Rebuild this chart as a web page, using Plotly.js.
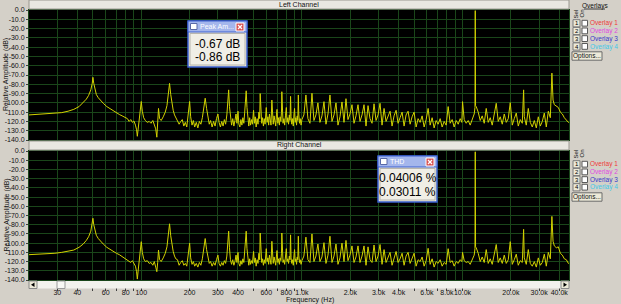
<!DOCTYPE html>
<html><head><meta charset="utf-8">
<script src="https://cdn.plot.ly/plotly-3.0.1.min.js"></script>
<style>html,body{margin:0;padding:0;background:#d4d0c8;overflow:hidden}#chart{width:621px;height:304px}</style>
</head><body><div id="chart"></div>
<script>
// ---------- DATA ----------
const freqA = [20,23,26,29,32,35,38,41,43.5,45.5,
47,48.5,49.5,50,50.6,51.3,52.5,54,55.5,58,
61,64,67,70,73,76,79,82,84,86,
88,90,92,93.5,94.5,96,98,100,101.5,103.5,
106,109,112,115,118,120.5,123,125,126.5,128,
130,133,137,141,144.5,147.5,150,152.5,155,158,
161,164,168,172,176];
const leftA = [-113,-112.5,-112,-111,-110.5,-109,-107,-104,-100,-96,
-92,-86,-79,-72.5,-79,-85,-91,-94.5,-97,-100.5,
-104,-106.5,-108.5,-110.5,-112.5,-114,-116,-117,-120,-118,
-121,-119.5,-124,-129,-136,-126,-112,-98.5,-109,-116,
-119,-121,-120,-122,-119,-123,-128,-137,-122,-106,
-117,-119,-115,-110,-103,-92,-79,-91,-101,-108,
-113,-116,-119,-123,-120];
const rightA = [-112.5,-112,-111.5,-111,-110,-109,-107.5,-104.5,-101,-97,
-93,-87,-80,-73,-80,-86,-91.5,-95,-97.5,-101,
-104.5,-107,-109,-111,-112.5,-114.5,-116,-118,-119,-121,
-119,-122,-125,-131,-139,-127,-113,-98.4,-110,-117,
-120,-119,-122,-121,-124,-120,-126,-131,-121,-107.5,
-118,-120,-116,-111,-104,-93,-79,-92,-102,-109,
-114,-117,-118,-124,-121];

const freqB = [180,184,188,192,196,200,203,207,211,215,
220,225,230,235,240,245,250,255,260,265,
270,276,282,288,294,300,305,311,317,323,
329,335,341,346,350,354,359,365,371,377,
383,389,394,400,405,411,417,423,429,435,
440,445,450,455,461,467,473,479,486,492,
500,506,512,519,526,533,540,546,550,555,
562,569,576,583,590,600,607,614,621,628,
635,642,650,656,663,671,679,687,694,700,
708,716,724,732,740,746,750,755,763,772,
781,790,800,808,817,826,835,843,850,856,
865,874,884,893,900,908,917,926,935,943,
950,956,966,976,988];
const leftB = [-118,-125,-121,-126,-114,-98.5,-115,-124,-119,-126,
-121,-127,-120,-123,-116,-107,-95,-106,-116,-123,
-119,-126,-120,-125,-117,-112,-121,-126,-120,-125,
-118,-123,-113,-102,-86,-104,-117,-124,-117,-125,
-119,-112,-122,-109,-123,-126,-118,-124,-116,-122,
-111,-102,-87,-105,-118,-125,-116,-124,-118,-123,
-108,-122,-115,-126,-117,-123,-110,-117,-90,-113,
-122,-116,-125,-117,-123,-105,-121,-115,-124,-112,
-120,-124,-97,-116,-123,-114,-121,-125,-113,-107,
-122,-116,-124,-115,-120,-110,-88,-113,-122,-117,
-124,-114,-105,-121,-116,-123,-113,-119,-93,-115,
-123,-117,-125,-112,-106,-121,-116,-124,-114,-119,
-91.5,-112,-122,-117,-124];
const rightB = [-119,-124,-122,-125,-115,-100,-116,-123,-120,-125,
-122,-126,-121,-124,-117,-108,-95,-107,-117,-122,
-120,-125,-121,-124,-118,-113,-122,-125,-121,-124,
-119,-122,-114,-103,-87,-105,-118,-123,-118,-124,
-120,-113,-121,-110,-122,-125,-119,-123,-117,-121,
-112,-103,-87,-106,-119,-124,-117,-123,-119,-122,
-109,-121,-116,-125,-118,-122,-111,-118,-89,-114,
-121,-117,-124,-118,-122,-106,-120,-116,-123,-113,
-121,-123,-98,-117,-122,-115,-120,-124,-114,-108,
-121,-117,-123,-116,-119,-111,-89,-114,-121,-118,
-123,-115,-106,-120,-117,-122,-114,-118,-91,-116,
-122,-118,-124,-113,-107,-120,-117,-123,-115,-118,
-92.5,-113,-121,-118,-123];

const freqC = [1000,1029,1059,1090,1122,1155,1188,1223,1258,1295,
1333,1372,1412,1453,1495,1539,1584,1630,1677,1726,
1776,1828,1881,1936,1992,2050,2110,2171,2235,2300,
2367,2436,2507,2580,2655,2732,2812,2894,2978,3065,
3154,3246,3341,3438,3538,3641,3747,3857,3969,4085,
4204,4326,4452,4582,4716,4853,4994,5140,5290,5444,
5602,5766,5934,6107,6284,6467,6656,6850,7049,7255,
7466,7684,7908,8138,8375,8619,8870,9129,9395,9668,
9900,10000,10240];
const leftC = [-118,-113,-91.5,-117,-122,-89.7,-119,-113,-100,-121,
-114,-98.7,-123,-112,-91.5,-120,-113,-100,-124,-115,
-99,-121,-95.5,-118,-112,-102,-122,-114,-102,-120,
-113,-102,-125,-103,-117,-122,-101,-119,-113,-100.5,
-124,-106,-120,-115,-109,-125,-114,-108,-122,-116,
-110,-125,-113,-109,-123,-115,-110,-126,-117,-121,
-114,-126,-118,-106,-124,-116,-127,-119,-123,-117,
-126,-120,-124,-104,-122,-118,-126,-119,-123,-117,
-121,-98.7,-118];
const rightC = [-119,-114,-93.5,-118,-121,-90,-120,-114,-101,-120,
-115,-99.5,-122,-113,-92.5,-121,-114,-101,-123,-116,
-100,-120,-97,-119,-113,-103,-121,-115,-103,-121,
-114,-103,-124,-104,-118,-121,-102,-120,-114,-101.5,
-123,-107,-121,-116,-110,-124,-115,-109,-121,-117,
-111,-124,-114,-110,-122,-116,-111,-125,-118,-120,
-115,-125,-119,-105.6,-123,-117,-126,-120,-122,-118,
-125,-121,-123,-106,-121,-119,-125,-120,-122,-118,
-120,-110,-119];

const freqD = [10538,10845,11161,11486,11820,11950,12000,12050,12165,12519,
12884,13259,13645,14043,14452,14872,15306,15751,16210,16682,
17168,17668,18183,18713,19258,19819,20396,20990,21602,22231,
22878,23545,24000,24230,24936,25663,26410,27180,27971,28786,
29625,30487,31375,32289,33230,34198,35194,36000,36600,37274,
38360,39478,40628,41811,43029,44283,45573,46900];
const leftD = [-122,-119,-124,-117,-112,-105,-0.67,-103,-104,-110,
-119,-114,-122,-106,-121,-116,-124,-113,-100.5,-120,
-115,-123,-112,-121,-117,-99.8,-124,-117,-111,-125,
-118,-122,-86,-115,-124,-106,-121,-126,-119,-127,
-115,-125,-120,-111,-126,-109,-116,-68,-97,-102,
-104,-105,-110,-112,-116,-119,-121,-121];
const rightD = [-121,-120,-123,-118,-113,-106,-0.86,-104,-105,-111,
-120,-115,-121,-107,-122,-117,-123,-114,-101.5,-121,
-116,-122,-113,-122,-118,-98.4,-123,-118,-112,-124,
-119,-121,-85,-116,-123,-107,-122,-125,-120,-126,
-116,-124,-121,-112,-125,-110,-117,-71,-98,-103,
-105,-104,-111,-113,-117,-118,-122,-121];

const freqTicks = [30,40,50,60,70,80,90,100,200,300,400,500,600,700,800,900,
1000,2000,3000,4000,5000,6000,7000,8000,9000,10000,20000,30000,40000];
const freqLabels = ['30','40','','60','','80','','100','200','300','400','','600','','800','',
'1.0k','2.0k','3.0k','4.0k','','6.0k','','8.0k','','10.0k','20.0k','30.0k','40.0k'];
const dbTicks = [0,-10,-20,-30,-40,-50,-60,-70,-80,-90,-100,-110,-120,-130,-140];
const dbLabels = ['0.0','-10.0','-20.0','-30.0','-40.0','-50.0','-60.0','-70.0','-80.0','-90.0',
'-100.0','-110.0','-120.0','-130.0','-140.0'];
const overlayNames = ['Overlay 1','Overlay 2','Overlay 3','Overlay 4'];
const overlayColors = ['#ee3a3a','#e048e0','#3838c8','#40c8e8'];
const peakReadout = ['-0.67 dB','-0.86 dB'];
const thdReadout = ['0.04006 %','0.03011 %'];

// ---------- BUILD ----------
const freqHz = freqA.concat(freqB, freqC, freqD);
const leftDb = leftA.concat(leftB, leftC, leftD);
const rightDb = rightA.concat(rightB, rightC, rightD);

const L=29,R=569,T=10,B=280;
function px(x){return (x-L)/(R-L);}
function py(y){return (B-y)/(B-T);}
const FONT='Liberation Sans, Arial, sans-serif';
const shapes=[], annos=[];
function rect(x0,y0,x1,y1,fill,lc,lw){shapes.push({type:'rect',xref:'paper',yref:'paper',x0:px(x0),x1:px(x1),y0:py(y1),y1:py(y0),fillcolor:fill,line:{color:lc||'rgba(0,0,0,0)',width:lc?(lw||1):0},layer:'above'});}
function seg(x0,y0,x1,y1,c,w){shapes.push({type:'line',xref:'paper',yref:'paper',x0:px(x0),x1:px(x1),y0:py(y0),y1:py(y1),line:{color:c,width:w||1},layer:'above'});}
function poly(pts,fill){const d='M '+pts.map(p=>px(p[0])+','+py(p[1])).join(' L ')+' Z';shapes.push({type:'path',xref:'paper',yref:'paper',path:d,fillcolor:fill,line:{width:0},layer:'above'});}
function txt(x,y,s,size,color,xa,angle){annos.push({xref:'paper',yref:'paper',x:px(x),y:py(y),text:s,showarrow:false,xanchor:xa||'center',yanchor:'middle',textangle:angle||0,borderpad:0,font:{family:FONT,size:size,color:color||'#000'}});}

// channel header bands
rect(29,0,569,9,'#e9e7e1','#9a9890',1);
txt(299,4.5,'Left Channel',7,'#111');
rect(29,141,569,150,'#e9e7e1','#9a9890',1);
txt(299,145.5,'Right Channel',7,'#111');

// axis titles
txt(6,75,'Relative Amplitude (dB)',7,'#111','center',-90);
txt(6,215.5,'Relative Amplitude (dB)',7,'#111','center',-90);
txt(310,300,'Frequency (Hz)',7,'#111');

// scrollbar
rect(29,281,569,288.5,'#f3f2ed');
rect(29,281,37,288.5,'#ece9d8','#8a8a8a',1);
poly([[34.5,282.5],[31,284.8],[34.5,287]],'#000');
rect(57,281,65,288.5,'#f8f8f4','#9a9a9a',1);
rect(561,281,569,288.5,'#ece9d8','#8a8a8a',1);
poly([[563.5,282.5],[567,284.8],[563.5,287]],'#000');

// overlay panels
function overlayPanel(rows, optY, selY, withTitle){
  if(withTitle){ txt(594.5,5.5,'Overlays',6.5,'#111'); seg(584,9,605,9,'#111',0.8); }
  txt(575.5,selY,'Sel',6,'#111','center',-90);
  txt(581.5,selY,'On',6,'#111','center',-90);
  rows.forEach((r,i)=>{
    rect(573,r-3.6,580,r+3.6,'#ece9d8','#7a7a7a',1);
    txt(576.5,r,String(i+1),6,'#000');
    rect(582,r-3,587.5,r+2.8,'#ffffff','#5a5a5a',1);
    txt(589,r,overlayNames[i],6.5,overlayColors[i],'left');
  });
  rect(572,optY-4.2,602,optY+4.2,'#ece9d8','#6a6a6a',1);
  txt(587,optY,'Options...',6.5,'#111');
}
overlayPanel([23.3,31,38.7,46.5],56,14,true);
overlayPanel([164.3,172,179.7,187.3],197,154,false);

// floating readout windows
function popup(x0,y0,x1,y1,title,lines){
  rect(x0,y0,x1,y1,'#ece9d8','#3a5fd0',1.5);
  rect(x0,y0,x1,y0+11,'#a4b6ec','#3a5fd0',1);
  rect(x0+2.5,y0+2.5,x0+9,y0+8.5,'#ffffff','#5868a8',1);
  txt(x0+11,y0+5.8,title,7,'#ffffff','left');
  rect(x1-11,y0+2,x1-3,y0+10,'#d85050','#ffffff',1);
  seg(x1-9,y0+4,x1-5,y0+8,'#ffffff',1.3);
  seg(x1-9,y0+8,x1-5,y0+4,'#ffffff',1.3);
  rect(x0+2,y0+12.5,x1-2,y1-2,'#f0eee6','#b8b6ae',1);
  txt((x0+x1)/2,y0+22.5,lines[0],12,'#000');
  txt((x0+x1)/2,y0+35.8,lines[1],12,'#000');
}
popup(188,21,247,67,'Peak Am...',peakReadout);
popup(378,156,437,202,'THD',thdReadout);

const gridC='#1a461a';
const xBase={type:'log',range:[Math.log10(20),Math.log10(46000)],tickvals:freqTicks,ticktext:freqLabels,
  showgrid:true,gridcolor:gridC,gridwidth:1,zeroline:false,showline:true,linecolor:gridC,mirror:true,fixedrange:true};
const yBase={range:[-140,0],tickvals:dbTicks,ticktext:dbLabels,showgrid:true,gridcolor:gridC,gridwidth:1,
  zeroline:false,showline:true,linecolor:gridC,mirror:true,ticks:'outside',ticklen:2,tickcolor:'#404040',
  tickfont:{family:FONT,size:7,color:'#111'},fixedrange:true};

const traceStyle={mode:'lines',line:{color:'#d2d200',width:1},hoverinfo:'skip'};
const data=[
  Object.assign({x:freqHz,y:leftDb,xaxis:'x',yaxis:'y',name:'Left Channel'},traceStyle),
  Object.assign({x:freqHz,y:rightDb,xaxis:'x2',yaxis:'y2',name:'Right Channel'},traceStyle)
];
const layout={
  width:621,height:304,margin:{l:29,r:52,t:10,b:24,pad:0},
  paper_bgcolor:'#d4d0c8',plot_bgcolor:'#000000',showlegend:false,hovermode:false,
  xaxis:Object.assign({},xBase,{anchor:'y',domain:[0,1],showticklabels:false,ticks:''}),
  xaxis2:Object.assign({},xBase,{anchor:'y2',domain:[0,1],ticks:'outside',ticklen:10,tickcolor:'#404040',
    ticklabelstandoff:-4,tickangle:0,tickfont:{family:FONT,size:7,color:'#111'}}),
  yaxis:Object.assign({},yBase,{anchor:'x',domain:[py(140),py(10)]}),
  yaxis2:Object.assign({},yBase,{anchor:'x2',domain:[py(280),py(151)]}),
  shapes:shapes,annotations:annos
};
Plotly.newPlot('chart',data,layout,{staticPlot:true,displayModeBar:false});
</script></body></html>
